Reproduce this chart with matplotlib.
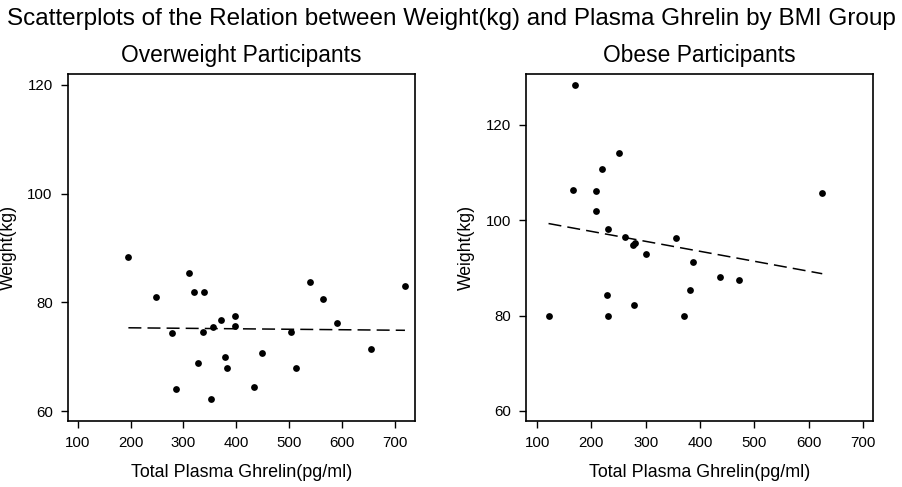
import numpy as np
import matplotlib
matplotlib.use('Agg')
import matplotlib.pyplot as plt

plt.rcParams['font.family'] = ['Liberation Sans', 'DejaVu Sans']

# Overweight group
ow_ghrelin = [196, 249, 278, 285, 311, 320, 327, 337, 339, 351, 356, 371, 378,
              383, 397, 398, 434, 448, 503, 512, 538, 563, 590, 654, 718]
ow_weight = [88.4, 81.0, 74.3, 64.0, 85.5, 81.9, 68.9, 74.6, 81.9, 62.2, 75.5,
             76.7, 69.9, 67.9, 75.7, 77.6, 64.4, 70.7, 74.5, 68.0, 83.7, 80.7,
             76.3, 71.5, 83.0]

# Obese group
ob_ghrelin = [121, 166, 169, 208, 209, 220, 229, 230, 230, 250, 261, 276, 280,
              278, 301, 356, 371, 381, 387, 436, 472, 625]
ob_weight = [79.8, 106.2, 128.4, 106.0, 101.9, 110.8, 84.2, 98.2, 79.8, 114.1,
             96.5, 94.7, 95.1, 82.3, 92.9, 96.2, 80.0, 85.4, 91.2, 88.1, 87.4,
             105.7]

xticks = [100, 200, 300, 400, 500, 600, 700]

fig = plt.figure(figsize=(9.03, 4.87), dpi=100)
ax1 = fig.add_axes([0.0753, 0.1355, 0.3843, 0.7125])
ax2 = fig.add_axes([0.5828, 0.1355, 0.3843, 0.7125])

fig.text(0.5, 0.961, "Scatterplots of the Relation between Weight(kg) and Plasma Ghrelin by BMI Group",
         ha='center', va='center', fontsize=17.5)


def panel(ax, x, y, title, xlim, ylim, yticks):
    x = np.array(x, dtype=float)
    y = np.array(y, dtype=float)
    ax.scatter(x, y, s=24, color='black', zorder=3, linewidths=0)
    b, a = np.polyfit(x, y, 1)
    xs = np.array([x.min(), x.max()])
    ax.plot(xs, a + b * xs, color='black', lw=1.1, dashes=(8.5, 4))
    ax.set_xlim(*xlim)
    ax.set_ylim(*ylim)
    ax.set_xticks(xticks)
    ax.set_yticks(yticks)
    ax.set_title(title, fontsize=16.4, pad=9)
    ax.set_xlabel("Total Plasma Ghrelin(pg/ml)", fontsize=12.9, labelpad=10)
    ax.set_ylabel("Weight(kg)", fontsize=12.7)
    ax.yaxis.set_label_coords(-0.147, 0.5)
    ax.tick_params(direction='out', length=5, width=1, labelsize=10.8, pad=6)
    for s in ax.spines.values():
        s.set_linewidth(1.2)


panel(ax1, ow_ghrelin, ow_weight, "Overweight Participants", (82, 737), (58.2, 122.0), [60, 80, 100, 120])
panel(ax2, ob_ghrelin, ob_weight, "Obese Participants", (80, 719), (57.9, 130.6), [60, 80, 100, 120])

fig.savefig('out.png', dpi=100)
